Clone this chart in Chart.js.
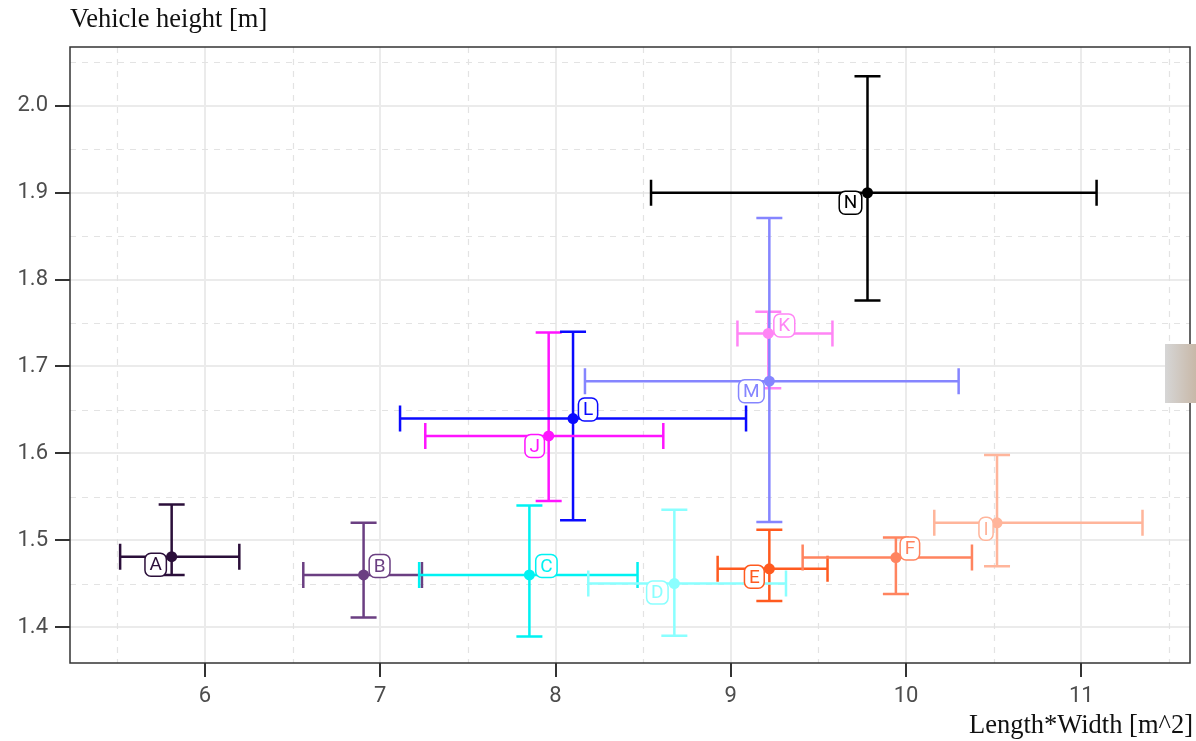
<!DOCTYPE html>
<html>
<head>
<meta charset="utf-8">
<script src="https://cdn.jsdelivr.net/npm/chart.js@4.4.0/dist/chart.umd.min.js"></script>
<style>
  html, body { margin: 0; padding: 0; background: #fff; }
  canvas { display: block; }
</style>
</head>
<body>
<canvas id="myChart" width="1196" height="741"></canvas>
<script>
// vehicle groups and their mean / range values
const vehicles   = ['A', 'B', 'C', 'D', 'E', 'F', 'I', 'J', 'K', 'L', 'M', 'N'];
const areaMean   = [5.81, 6.905, 7.851, 8.678, 9.22, 9.942, 10.519, 7.961, 9.214, 8.10, 9.22, 9.78];
const areaLow    = [5.516, 6.561, 7.222, 8.187, 8.925, 9.41, 10.161, 7.257, 9.038, 7.113, 8.168, 8.545];
const areaHigh   = [6.196, 7.238, 8.468, 9.315, 9.552, 10.376, 11.349, 8.615, 9.58, 9.087, 10.30, 11.087];
const heightMean = [1.481, 1.460, 1.460, 1.450, 1.467, 1.480, 1.520, 1.620, 1.738, 1.640, 1.683, 1.900];
const heightLow  = [1.460, 1.411, 1.389, 1.390, 1.430, 1.438, 1.470, 1.545, 1.675, 1.523, 1.521, 1.776];
const heightHigh = [1.541, 1.520, 1.540, 1.535, 1.512, 1.503, 1.598, 1.739, 1.763, 1.740, 1.871, 2.034];

const xTicks = [6, 7, 8, 9, 10, 11];
const yTicks = [1.4, 1.5, 1.6, 1.7, 1.8, 1.9, 2.0];
const xMinor = [5.5, 6.5, 7.5, 8.5, 9.5, 10.5, 11.5];
const yMinor = [1.45, 1.55, 1.65, 1.75, 1.85, 1.95, 2.05];

// styles
const colors = ['#2b0f3a', '#6b3f82', '#00f2f2', '#8affff', '#ff5a1f', '#ff845f',
                '#ffb59b', '#ff14ff', '#ff85f5', '#0a0aff', '#8585ff', '#000000'];
// label offsets from the point (px), like ggrepel placed them
const labelDx = [-16, 16, 17, -17, -15, 14, -11, -14, 16, 15, -18, -17];
const labelDy = [8, -9, -9, 9, 8, -9, 6, 10, -8, -9, 10, 10];

const CAP = 13;

const minorGrid = {
  id: 'minorGrid',
  beforeDatasetsDraw(chart) {
    const { ctx, chartArea: a, scales: { x, y } } = chart;
    ctx.save();
    ctx.strokeStyle = '#e3e3e3';
    ctx.lineWidth = 1.2;
    ctx.setLineDash([6, 6]);
    ctx.beginPath();
    xMinor.forEach(v => {
      const p = Math.round(x.getPixelForValue(v)) + 0.5;
      if (p > a.left && p < a.right) { ctx.moveTo(p, a.top); ctx.lineTo(p, a.bottom); }
    });
    yMinor.forEach(v => {
      const p = Math.round(y.getPixelForValue(v)) + 0.5;
      if (p > a.top && p < a.bottom) { ctx.moveTo(a.left, p); ctx.lineTo(a.right, p); }
    });
    ctx.stroke();
    ctx.restore();
  }
};

const errorBars = {
  id: 'errorBars',
  beforeDatasetsDraw(chart) {
    const { ctx, scales: { x, y } } = chart;
    ctx.save();
    ctx.lineWidth = 2.5;
    // vertical bars first, horizontal bars on top
    vehicles.forEach((v, i) => {
      const px = x.getPixelForValue(areaMean[i]);
      const y1 = y.getPixelForValue(heightLow[i]);
      const y2 = y.getPixelForValue(heightHigh[i]);
      ctx.strokeStyle = colors[i];
      ctx.beginPath();
      ctx.moveTo(px, y1); ctx.lineTo(px, y2);
      ctx.moveTo(px - CAP, y1); ctx.lineTo(px + CAP, y1);
      ctx.moveTo(px - CAP, y2); ctx.lineTo(px + CAP, y2);
      ctx.stroke();
    });
    vehicles.forEach((v, i) => {
      const py = y.getPixelForValue(heightMean[i]);
      const x1 = x.getPixelForValue(areaLow[i]);
      const x2 = x.getPixelForValue(areaHigh[i]);
      ctx.strokeStyle = colors[i];
      ctx.beginPath();
      ctx.moveTo(x1, py); ctx.lineTo(x2, py);
      ctx.moveTo(x1, py - CAP); ctx.lineTo(x1, py + CAP);
      ctx.moveTo(x2, py - CAP); ctx.lineTo(x2, py + CAP);
      ctx.stroke();
    });
    ctx.restore();
  }
};

const boxLabels = {
  id: 'boxLabels',
  afterDatasetsDraw(chart) {
    const { ctx, scales: { x, y } } = chart;
    ctx.save();
    ctx.font = '19px Roboto';
    ctx.textAlign = 'center';
    ctx.textBaseline = 'middle';
    vehicles.forEach((v, i) => {
      const cx = x.getPixelForValue(areaMean[i]) + labelDx[i];
      const cy = y.getPixelForValue(heightMean[i]) + labelDy[i];
      const w = ctx.measureText(v).width + 9;
      const h = 23;
      ctx.beginPath();
      ctx.roundRect(cx - w / 2, cy - h / 2, w, h, 6);
      ctx.fillStyle = '#fff';
      ctx.fill();
      ctx.lineWidth = 1.5;
      ctx.strokeStyle = colors[i];
      ctx.stroke();
      ctx.fillStyle = colors[i];
      ctx.fillText(v, cx, cy + 1);
    });
    ctx.restore();
  }
};

const frame = {
  id: 'frame',
  afterDraw(chart) {
    const { ctx, chartArea: a } = chart;
    ctx.save();
    ctx.strokeStyle = '#333';
    ctx.lineWidth = 1.5;
    ctx.strokeRect(a.left, a.top, a.right - a.left, a.bottom - a.top);
    // axis titles
    ctx.fillStyle = '#111';
    ctx.font = '26.5px "Liberation Serif"';
    ctx.textBaseline = 'alphabetic';
    ctx.textAlign = 'left';
    ctx.fillText('Vehicle height [m]', 70, 27);
    ctx.textAlign = 'right';
    ctx.fillText('Length*Width [m^2]', 1193, 733);
    // grey block at the right edge
    const g = ctx.createLinearGradient(1165, 0, 1196, 0);
    g.addColorStop(0, '#d6d6d6');
    g.addColorStop(1, '#c8b8a8');
    ctx.fillStyle = g;
    ctx.fillRect(1165, 344, 31, 59);
    ctx.restore();
  }
};

const ctx = document.getElementById('myChart').getContext('2d');
Chart.defaults.font.family = 'Roboto';

new Chart(ctx, {
  type: 'scatter',
  data: {
    datasets: [{
      data: vehicles.map((v, i) => ({ x: areaMean[i], y: heightMean[i] })),
      pointRadius: 5.5,
      pointHoverRadius: 5.5,
      pointBorderWidth: 0,
      pointBackgroundColor: colors,
      pointBorderColor: colors
    }]
  },
  options: {
    responsive: false,
    animation: false,
    layout: { padding: { top: 47, right: 6, left: 0, bottom: 0 } },
    plugins: {
      legend: { display: false },
      tooltip: { enabled: false }
    },
    scales: {
      x: {
        type: 'linear',
        min: 5.23,
        max: 11.62,
        afterBuildTicks: s => { s.ticks = xTicks.map(v => ({ value: v })); },
        afterFit: s => { s.height = 78; },
        grid: { color: '#ebebeb', lineWidth: 2, tickLength: 14, tickColor: '#333', tickWidth: 2 },
        border: { display: false },
        ticks: { color: '#4d4d4d', font: { size: 22 }, padding: 6, maxRotation: 0,
                 callback: v => String(v) }
      },
      y: {
        type: 'linear',
        min: 1.3586,
        max: 2.0678,
        afterBuildTicks: s => { s.ticks = yTicks.map(v => ({ value: v })); },
        afterFit: s => { s.width = 70; },
        grid: { color: '#ebebeb', lineWidth: 2, tickLength: 15, tickColor: '#333', tickWidth: 2 },
        border: { display: false },
        ticks: { color: '#4d4d4d', font: { size: 22 }, padding: 7,
                 callback: v => v.toFixed(1) }
      }
    }
  },
  plugins: [minorGrid, errorBars, boxLabels, frame]
});
</script>
</body>
</html>
